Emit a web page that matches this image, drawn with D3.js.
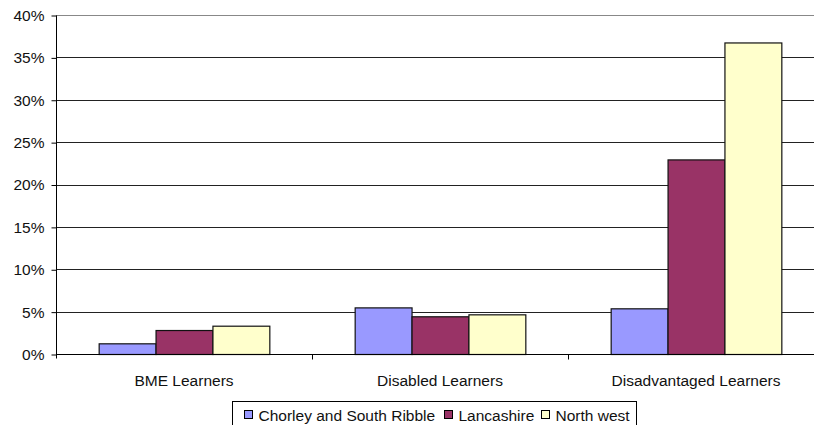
<!DOCTYPE html>
<html>
<head>
<meta charset="utf-8">
<script src="https://cdn.jsdelivr.net/npm/d3@7"></script>
<style>
  body { margin: 0; background: #fff; }
  svg { font-family: "Liberation Sans", Arial, sans-serif; }
</style>
</head>
<body>
<svg id="chart" width="814" height="425"></svg>
<script>
// data
var categories = ["BME Learners", "Disabled Learners", "Disadvantaged Learners"];
var seriesNames = ["Chorley and South Ribble", "Lancashire", "North west"];
var chorley = [1.26, 5.5, 5.39];
var lancashire = [2.83, 4.45, 22.96];
var northWest = [3.34, 4.68, 36.76];
var yTicks = [0, 5, 10, 15, 20, 25, 30, 35, 40];

(function(){
var colours = ["#9999ff", "#993366", "#ffffcc"];
var allSeries = [chorley, lancashire, northWest];

var svg = d3.select("#chart");
var mLeft = 56, mRight = 824, mTop = 15, mBottom = 354;
var fontSize = "15.5px";

var x = d3.scaleBand()
    .domain(categories)
    .range([mLeft, mRight]);

var inner = d3.scaleBand()
    .domain(d3.range(seriesNames.length))
    .range([0, x.bandwidth()])
    .paddingOuter(0.75)
    .paddingInner(0);

var y = d3.scaleLinear()
    .domain([0, 40])
    .range([mBottom, mTop]);

// gridlines
svg.append("g")
    .selectAll("line")
    .data(yTicks.filter(function(d){ return d > 0; }))
    .enter().append("line")
    .attr("x1", mLeft).attr("x2", mRight)
    .attr("y1", function(d){ return Math.round(y(d)) + 0.5; })
    .attr("y2", function(d){ return Math.round(y(d)) + 0.5; })
    .style("stroke", function(d){ return d == 40 ? "#888" : "#222"; })
    .style("stroke-width", 1);

// bars
var groups = svg.append("g")
    .selectAll("g")
    .data(categories)
    .enter().append("g")
    .attr("transform", function(d){ return "translate(" + x(d) + ",0)"; });

groups.selectAll("rect")
    .data(function(d, i){ return allSeries.map(function(s, j){ return {s: j, v: s[i]}; }); })
    .enter().append("rect")
    .attr("x", function(d){ return inner(d.s) + 0.5; })
    .attr("width", inner.bandwidth())
    .attr("y", function(d){ return y(d.v) + 0.5; })
    .attr("height", function(d){ return mBottom - y(d.v); })
    .style("fill", function(d){ return colours[d.s]; })
    .style("stroke", "#111")
    .style("stroke-width", 1.2);

// y axis
var yAxis = d3.axisLeft(y)
    .tickValues(yTicks)
    .tickSize(5)
    .tickFormat(function(d){ return d + "%"; });

var gy = svg.append("g")
    .attr("transform", "translate(" + (mLeft + 0.5) + ",0.5)")
    .call(yAxis);
gy.select(".domain").attr("d", "M0," + mTop + "V" + (mBottom + 4));
gy.selectAll("path, line").style("stroke", "#000");
gy.selectAll("text")
    .attr("x", -12)
    .style("font-size", fontSize)
    .style("fill", "#111")
    .style("font-family", "Liberation Sans, Arial, sans-serif");

// x axis
var xAxis = d3.axisBottom(x).tickSize(0);
var gx = svg.append("g")
    .attr("transform", "translate(0," + (mBottom + 0.5) + ")")
    .call(xAxis);
gx.select(".domain").attr("d", "M" + mLeft + ",0H" + mRight).style("stroke", "#000");
gx.selectAll("text")
    .attr("y", 20)
    .style("font-size", fontSize)
    .style("fill", "#111")
    .style("font-family", "Liberation Sans, Arial, sans-serif");

// category separator ticks
gx.append("g")
    .selectAll("line")
    .data(categories.slice(1))
    .enter().append("line")
    .attr("x1", function(d){ return Math.round(x(d)) + 0.5; })
    .attr("x2", function(d){ return Math.round(x(d)) + 0.5; })
    .attr("y1", 0).attr("y2", 5)
    .style("stroke", "#000");

// legend
var legend = svg.append("g").attr("transform", "translate(232.5,401.5)");
legend.append("rect")
    .attr("width", 404).attr("height", 30)
    .style("fill", "#fff").style("stroke", "#000");

var swatchX = [12, 212, 309];
var items = legend.selectAll(".legend")
    .data(seriesNames)
    .enter().append("g")
    .attr("class", "legend")
    .attr("transform", function(d, i){ return "translate(" + swatchX[i] + ",0)"; });

items.append("rect")
    .attr("y", 9).attr("width", 8).attr("height", 8)
    .style("fill", function(d, i){ return colours[i]; })
    .style("stroke", "#000");

items.append("text")
    .attr("x", 14).attr("y", 19)
    .style("font-size", fontSize)
    .style("fill", "#111")
    .text(function(d){ return d; });
})();
</script>
</body>
</html>
